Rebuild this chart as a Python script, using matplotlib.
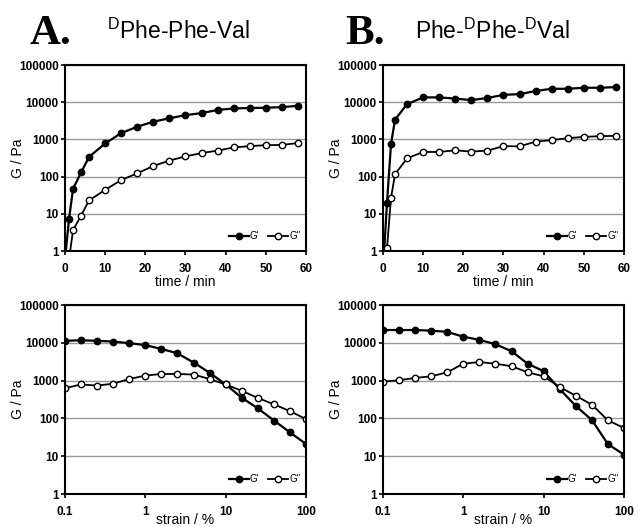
import matplotlib
matplotlib.use("Agg")
import matplotlib.pyplot as plt
from matplotlib.ticker import FixedLocator, FuncFormatter, NullLocator

plt.rcParams['font.family'] = ['Liberation Sans', 'DejaVu Sans']
plt.rcParams['mathtext.fontset'] = 'custom'
plt.rcParams['mathtext.rm'] = 'Liberation Sans'
plt.rcParams['mathtext.it'] = 'Liberation Sans:italic'
plt.rcParams['mathtext.bf'] = 'Liberation Sans:bold'

# time sweeps (min)
time_a_g1 = [0, 1, 2, 4, 6, 10, 14, 18, 22, 26, 30, 34, 38, 42, 46, 50, 54, 58]
a_g1 = [0.6, 7.3, 47, 130, 340, 780, 1480, 2200, 3000, 3700, 4500, 5100, 6200, 6800, 7000, 7100, 7400, 8000]
time_a_g2 = [1, 2, 4, 6, 10, 14, 18, 22, 26, 30, 34, 38, 42, 46, 50, 54, 58]
a_g2 = [0.6, 3.6, 9, 23, 44, 81, 123, 193, 270, 350, 430, 500, 610, 660, 700, 710, 800]

time_b_g1 = [0, 1, 2, 3, 6, 10, 14, 18, 22, 26, 30, 34, 38, 42, 46, 50, 54, 58]
b_g1 = [0.3, 20, 760, 3400, 8900, 13500, 13500, 12500, 11400, 13000, 15800, 16500, 20000, 23000, 23000, 24500, 24500, 25500]
time_b_g2 = [1, 2, 3, 6, 10, 14, 18, 22, 26, 30, 34, 38, 42, 46, 50, 54, 58]
b_g2 = [1.2, 27, 116, 310, 460, 460, 510, 470, 500, 660, 650, 870, 960, 1080, 1170, 1220, 1250]

# strain sweeps (%)
strain = [0.1, 0.158, 0.25, 0.4, 0.63, 1, 1.58, 2.5, 4, 6.3, 10, 15.8, 25, 40, 63, 100]
sa_g1 = [11300, 11700, 11300, 10800, 9800, 8700, 6900, 5300, 3000, 1620, 790, 355, 186, 88, 43, 21]
sa_g2 = [630, 790, 740, 830, 1100, 1360, 1500, 1500, 1450, 1100, 790, 540, 350, 235, 156, 96]
sb_g1 = [21800, 21800, 21800, 21000, 19500, 14500, 12000, 9200, 6000, 2800, 1780, 600, 216, 90, 21, 11]
sb_g2 = [940, 1020, 1180, 1300, 1660, 2800, 3100, 2800, 2400, 1660, 1300, 680, 400, 230, 89, 56]

y_ticks = [1, 10, 100, 1000, 10000, 100000]
time_ticks = [0, 10, 20, 30, 40, 50, 60]
strain_ticks = [0.1, 1, 10, 100]


def style_axis(ax):
    ax.set_yscale('log')
    ax.set_ylim(1, 100000)
    ax.yaxis.set_major_locator(FixedLocator(y_ticks))
    ax.yaxis.set_minor_locator(NullLocator())
    ax.yaxis.set_major_formatter(FuncFormatter(lambda v, p: '%d' % round(v)))
    ax.grid(axis='y', color='#9a9a9a', lw=1)
    ax.set_axisbelow(True)
    for s in ax.spines.values():
        s.set_linewidth(1.5)
        s.set_color('black')
    ax.tick_params(direction='out', length=3, width=1.2, labelsize=8.5)
    ax.tick_params(axis='x', pad=5.5)
    ax.tick_params(axis='y', pad=1.5)
    for lab in ax.get_xticklabels() + ax.get_yticklabels():
        lab.set_fontweight('bold')
    ax.set_ylabel('G / Pa', fontsize=10)
    ax.yaxis.set_label_coords(-0.165, 0.5)


def draw(ax, x1, y1, x2, y2):
    ax.plot(x1, y1, '-o', color='black', lw=1.6, ms=4.6, mfc='black', mec='black', label="G'")
    ax.plot(x2, y2, '-o', color='black', lw=1.3, ms=4.6, mfc='white', mec='black', mew=1.0, label="G''")
    ax.legend(loc='lower right', bbox_to_anchor=(1.0, 0.02), frameon=False, ncol=2,
              fontsize=7, handlelength=2.0, handletextpad=0.15, columnspacing=0.9,
              borderaxespad=0.2)


fig = plt.figure(figsize=(6.38, 5.27), dpi=100)
w = 0.3777
ax_a1 = fig.add_axes([0.1019, 0.5237, w, 0.3529])
ax_b1 = fig.add_axes([0.6003, 0.5237, w, 0.3529])
ax_a2 = fig.add_axes([0.1019, 0.0626, w, 0.3586])
ax_b2 = fig.add_axes([0.6003, 0.0626, w, 0.3586])

draw(ax_a1, time_a_g1, a_g1, time_a_g2, a_g2)
draw(ax_b1, time_b_g1, b_g1, time_b_g2, b_g2)
draw(ax_a2, strain, sa_g1, strain, sa_g2)
draw(ax_b2, strain, sb_g1, strain, sb_g2)

for ax in [ax_a1, ax_b1]:
    ax.set_xlim(0, 60)
    ax.set_xticks(time_ticks)
    style_axis(ax)
    ax.set_xlabel('time / min', fontsize=10, labelpad=0)

for ax in [ax_a2, ax_b2]:
    ax.set_xscale('log')
    ax.set_xlim(0.1, 100)
    ax.xaxis.set_major_locator(FixedLocator(strain_ticks))
    ax.xaxis.set_minor_locator(NullLocator())
    ax.xaxis.set_major_formatter(FuncFormatter(lambda v, p: ('%g' % v)))
    style_axis(ax)
    ax.set_xlabel('strain / %', fontsize=10, labelpad=-3.5)

# panel letters and peptide names
fig.text(0.046, 0.9165, 'A.', family='Liberation Serif', fontweight='bold', fontsize=31, va='baseline')
fig.text(0.541, 0.9165, 'B.', family='Liberation Serif', fontweight='bold', fontsize=31, va='baseline')
fig.text(0.167, 0.926, r'$^{\mathrm{D}}$Phe-Phe-Val', fontsize=16.5, va='baseline')
fig.text(0.650, 0.926, r'Phe-$^{\mathrm{D}}$Phe-$^{\mathrm{D}}$Val', fontsize=16.5, va='baseline')

fig.savefig('out.png', dpi=100)
